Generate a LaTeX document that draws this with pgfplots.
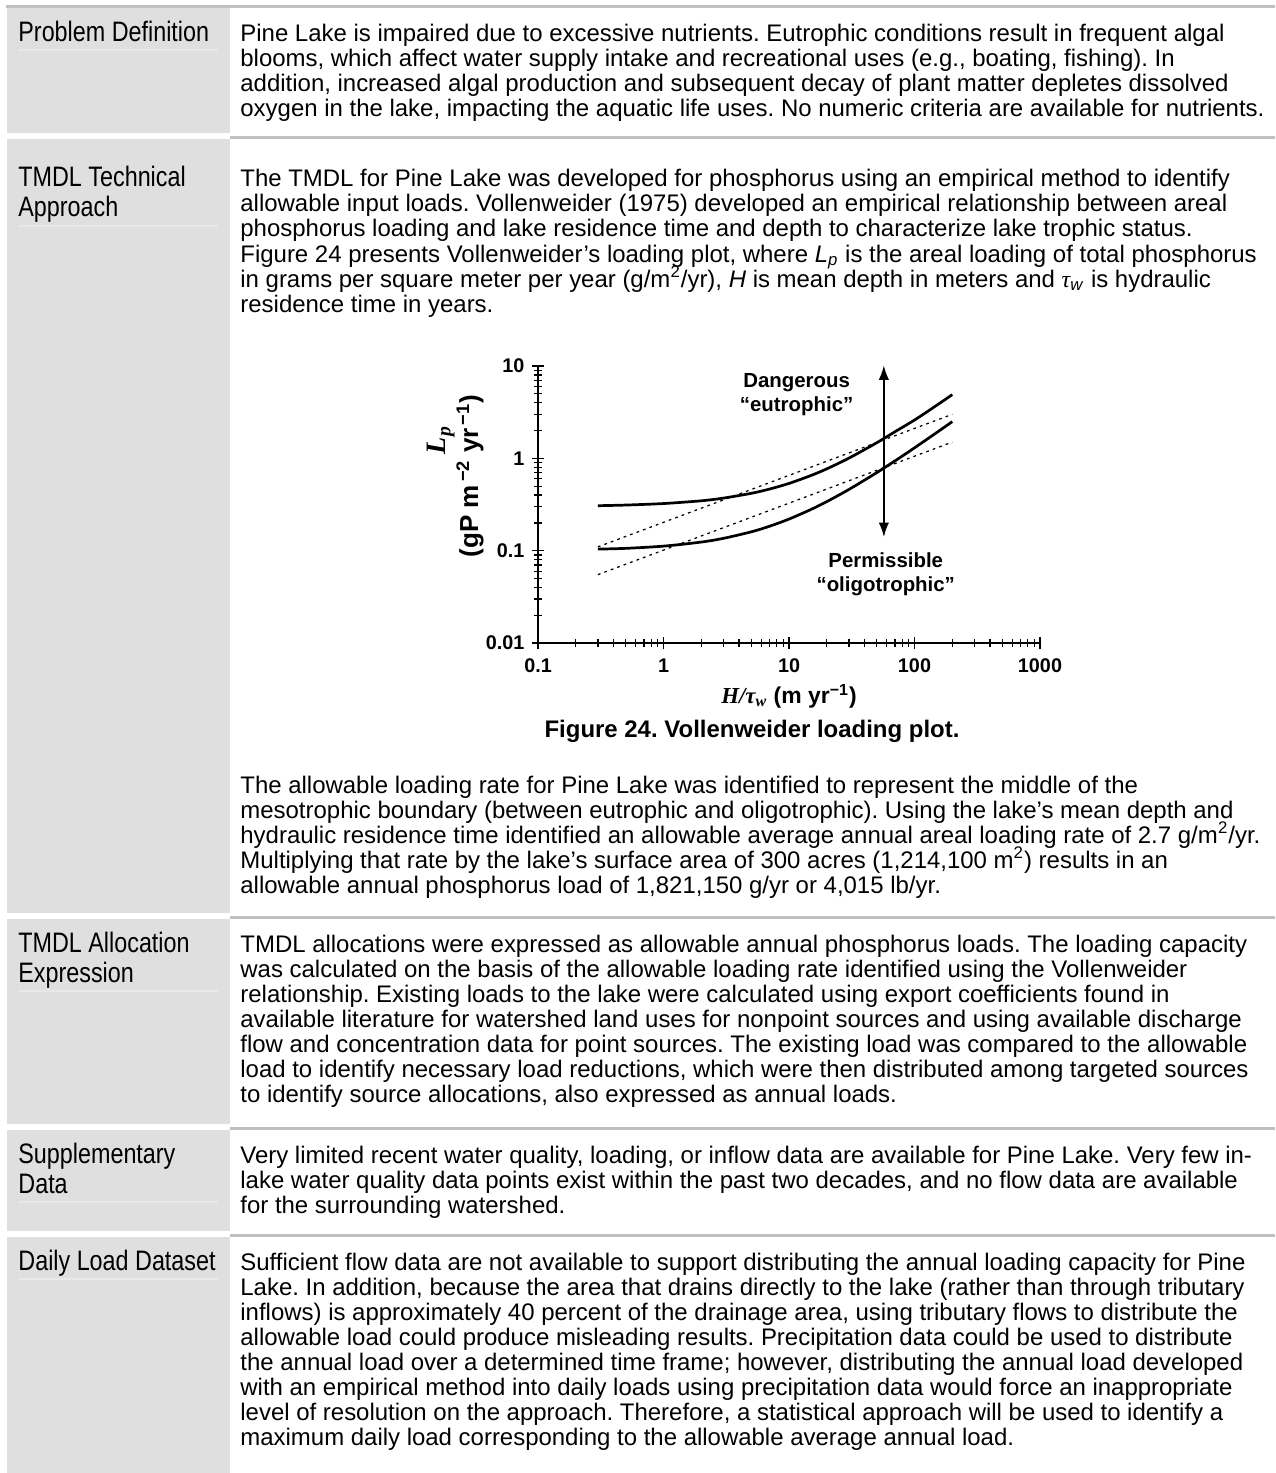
\documentclass[border=0pt]{standalone}
\usepackage{fontspec}
\setmainfont{Liberation Sans}
\newfontfamily\serif{Liberation Serif}
\newfontfamily\narrow[FakeStretch=0.83]{Liberation Sans}
\usepackage{pgfplots}
\pgfplotsset{compat=1.18}
\usetikzlibrary{arrows.meta}
\definecolor{cellgray}{HTML}{DFDFDF}
\definecolor{rulegray}{HTML}{C0C0C0}
\definecolor{faint}{HTML}{E8E8E8}
\frenchspacing
\newcommand\body{\fontsize{11.5}{12}\selectfont}
\newcommand\lab{\narrow\fontsize{13.5}{14}\selectfont}
\newcommand\tl[2]{\node[anchor=base west,inner sep=0pt,font=\body] at (240,#1) {#2};}
\newcommand\lb[2]{\node[anchor=base west,inner sep=0pt,font=\lab] at (18,#1) {#2};}
\newcommand\sep[1]{\fill[rulegray] (230,#1-1.5) rectangle (1275,#1+1.5);}
\newcommand\ul[1]{\draw[faint,line width=0.5pt] (18,#1) -- (218,#1);}
\newcommand\sups[1]{\smash{\textsuperscript{#1}}}
\newcommand\subs[1]{\smash{\textsubscript{#1}}}
\begin{document}
\begin{tikzpicture}
\begin{scope}[x=0.48pt,y=-0.48pt]
\useasboundingbox (0,0) rectangle (1275,1473);
\fill[white] (0,0) rectangle (1275,1473);
% left column blocks
\fill[cellgray] (7,8) rectangle (230,133);
\fill[cellgray] (7,139) rectangle (230,913);
\fill[cellgray] (7,919) rectangle (230,1124);
\fill[cellgray] (7,1130) rectangle (230,1231);
\fill[cellgray] (7,1237) rectangle (230,1473);
% rules
\fill[rulegray] (6,5) rectangle (1275,8);
\sep{137.5}\sep{917.5}\sep{1128.5}\sep{1235.5}
% faint underlines
\ul{50}\ul{226}\ul{991}\ul{1202}\ul{1279}
% labels
\lb{42}{Problem Definition}
\lb{187}{TMDL Technical}
\lb{217}{Approach}
\lb{952}{TMDL Allocation}
\lb{982}{Expression}
\lb{1163}{Supplementary}
\lb{1193}{Data}
\lb{1270}{Daily Load Dataset}
% row 1
\tl{42}{Pine Lake is impaired due to excessive nutrients. Eutrophic conditions result in frequent algal}
\tl{67}{blooms, which affect water supply intake and recreational uses (e.g., boating, fishing). In}
\tl{92}{addition, increased algal production and subsequent decay of plant matter depletes dissolved}
\tl{117}{oxygen in the lake, impacting the aquatic life uses. No numeric criteria are available for nutrients.}
% row 2
\tl{187}{The TMDL for Pine Lake was developed for phosphorus using an empirical method to identify}
\tl{212}{allowable input loads. Vollenweider (1975) developed an empirical relationship between areal}
\tl{237}{phosphorus loading and lake residence time and depth to characterize lake trophic status.}
\tl{262}{Figure 24 presents Vollenweider’s loading plot, where \textit{L}\subs{\textit{p}} is the areal loading of total phosphorus}
\tl{287}{in grams per square meter per year (g/m\sups{2}/yr), \textit{H} is mean depth in meters and {\serif\itshape τ}\subs{\textit{w}} is hydraulic}
\tl{312}{residence time in years.}
\tl{793}{The allowable loading rate for Pine Lake was identified to represent the middle of the}
\tl{818}{mesotrophic boundary (between eutrophic and oligotrophic). Using the lake’s mean depth and}
\tl{843}{hydraulic residence time identified an allowable average annual areal loading rate of 2.7 g/m\sups{2}/yr.}
\tl{868}{Multiplying that rate by the lake’s surface area of 300 acres (1,214,100 m\sups{2}) results in an}
\tl{893}{allowable annual phosphorus load of 1,821,150 g/yr or 4,015 lb/yr.}
% row 3
\tl{952}{TMDL allocations were expressed as allowable annual phosphorus loads. The loading capacity}
\tl{977}{was calculated on the basis of the allowable loading rate identified using the Vollenweider}
\tl{1002}{relationship. Existing loads to the lake were calculated using export coefficients found in}
\tl{1027}{available literature for watershed land uses for nonpoint sources and using available discharge}
\tl{1052}{flow and concentration data for point sources. The existing load was compared to the allowable}
\tl{1077}{load to identify necessary load reductions, which were then distributed among targeted sources}
\tl{1102}{to identify source allocations, also expressed as annual loads.}
% row 4
\tl{1163}{Very limited recent water quality, loading, or inflow data are available for Pine Lake. Very few in-}
\tl{1188}{lake water quality data points exist within the past two decades, and no flow data are available}
\tl{1213}{for the surrounding watershed.}
% row 5
\tl{1270}{Sufficient flow data are not available to support distributing the annual loading capacity for Pine}
\tl{1295}{Lake. In addition, because the area that drains directly to the lake (rather than through tributary}
\tl{1320}{inflows) is approximately 40 percent of the drainage area, using tributary flows to distribute the}
\tl{1345}{allowable load could produce misleading results. Precipitation data could be used to distribute}
\tl{1370}{the annual load over a determined time frame; however, distributing the annual load developed}
\tl{1395}{with an empirical method into daily loads using precipitation data would force an inappropriate}
\tl{1420}{level of resolution on the approach. Therefore, a statistical approach will be used to identify a}
\tl{1445}{maximum daily load corresponding to the allowable average annual load.}
% chart labels
\node[rotate=90,font=\serif\bfseries\itshape\fontsize{13.5}{14}\selectfont,inner sep=0pt] at (441,440) {L\textsubscript{p}};
\node[rotate=90,font=\bfseries\fontsize{12.5}{14}\selectfont,inner sep=0pt] at (470,476) {(gP m\textsuperscript{\,−2} yr\textsuperscript{\,−1})};
\node[font=\bfseries\fontsize{11}{12}\selectfont,inner sep=0pt] at (789,696) {{\serif\itshape H/τ}\textsubscript{\serif\itshape w} (m yr\textsuperscript{−1})};
\node[font=\bfseries\body,inner sep=0pt] at (752,731) {Figure 24. Vollenweider loading plot.};
\end{scope}
\begin{axis}[
  at={(258.24pt,-308.64pt)}, anchor=south west,
  scale only axis, width=240.96pt, height=132.96pt,
  xmode=log, ymode=log, xmin=0.1, xmax=1000, ymin=0.01, ymax=10,
  axis x line=bottom, axis y line=left,
  axis line style={-, line width=0.8pt, black},
  xtick={0.1,1,10,100,1000}, xticklabels={0.1,1,10,100,1000},
  ytick={0.01,0.1,1,10}, yticklabels={0.01,0.1,1,10},
  minor xtick={0.2,0.3,0.4,0.5,0.6,0.7,0.8,0.9,2,3,4,5,6,7,8,9,20,30,40,50,60,70,80,90,200,300,400,500,600,700,800,900},
  minor ytick={0.02,0.03,0.04,0.05,0.06,0.07,0.08,0.09,0.2,0.3,0.4,0.5,0.6,0.7,0.8,0.9,2,3,4,5,6,7,8,9},
  tick align=center, major tick length=6pt, minor tick length=4pt,
  tick style={black, line width=0.6pt},
  ticklabel style={font=\bfseries\fontsize{9.5}{10}\selectfont},
  xticklabel style={yshift=-1pt},
  clip=false,
]
\addplot[black, line width=1.3pt, smooth] coordinates {(0.3,0.307) (0.5,0.312) (1,0.324) (2,0.347) (3,0.371) (5,0.418) (7,0.465) (10,0.535) (15,0.653) (20,0.77) (30,1.005) (50,1.475) (70,1.945) (100,2.6) (150,3.75) (200,4.9)};
\addplot[black, line width=1.3pt, smooth] coordinates {(0.3,0.104) (0.5,0.106) (1,0.112) (2,0.124) (3,0.136) (5,0.16) (7,0.184) (10,0.22) (15,0.28) (20,0.34) (30,0.46) (50,0.70) (70,0.94) (100,1.3) (150,1.9) (200,2.5)};
\addplot[black, line width=0.6pt, dash pattern=on 1.3pt off 2pt] coordinates {(0.3,0.11) (200,3.0)};
\addplot[black, line width=0.6pt, dash pattern=on 1.3pt off 2pt] coordinates {(0.3,0.055) (200,1.5)};
\addplot[black, line width=1pt, {Latex[length=7pt,width=5pt]}-{Latex[length=7pt,width=5pt]}] coordinates {(57,0.14) (57,10.2)};
\node[font=\bfseries\fontsize{9.8}{11.5}\selectfont, align=center] at (axis cs:11.5,4.9) {Dangerous\\“eutrophic”};
\node[font=\bfseries\fontsize{9.8}{11.5}\selectfont, align=center] at (axis cs:59,0.056) {Permissible\\“oligotrophic”};
\end{axis}
\end{tikzpicture}
\end{document}
